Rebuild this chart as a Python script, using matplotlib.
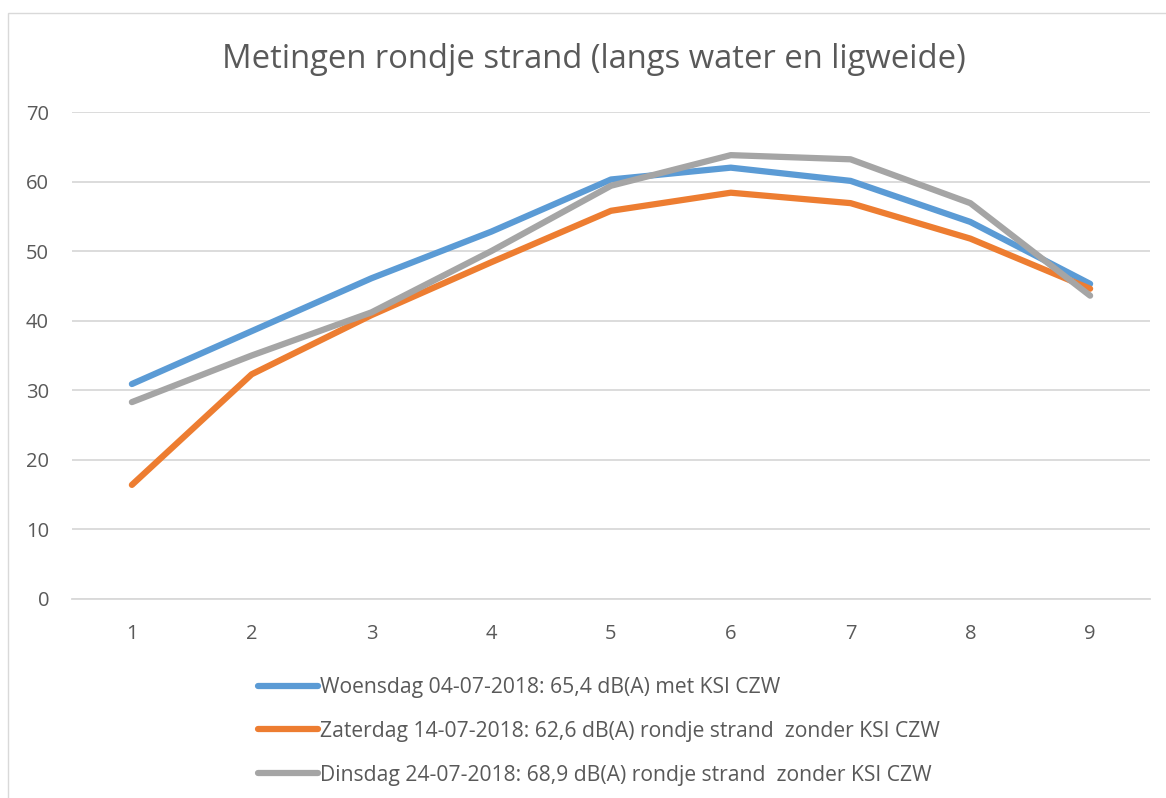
import matplotlib.pyplot as plt
from matplotlib.patches import Rectangle

plt.rcParams['font.family'] = ['Open Sans', 'DejaVu Sans']

points = [1, 2, 3, 4, 5, 6, 7, 8, 9]
woensdag = [30.9, 38.5, 46.1, 52.8, 60.3, 62.0, 60.1, 54.2, 45.3]
zaterdag = [16.4, 32.3, 40.8, 48.4, 55.8, 58.4, 56.9, 51.8, 44.6]
dinsdag = [28.3, 35.0, 41.2, 50.0, 59.4, 63.8, 63.2, 56.9, 43.6]

labels = [
    "Woensdag 04-07-2018: 65,4 dB(A) met KSI CZW",
    "Zaterdag 14-07-2018: 62,6 dB(A) rondje strand  zonder KSI CZW",
    "Dinsdag 24-07-2018: 68,9 dB(A) rondje strand  zonder KSI CZW",
]
colors = ["#5B9BD5", "#ED7D31", "#A5A5A5"]
txt = "#595959"

fig = plt.figure(figsize=(11.66, 7.98), dpi=100)
fig.patches.append(Rectangle((8 / 1166, -0.01), 1.0, 1 - 13 / 798 + 0.01,
                             transform=fig.transFigure, fill=False,
                             edgecolor="#d9d9d9", linewidth=1))

ax = fig.add_axes([72 / 1166, 1 - 599 / 798, (1150 - 72) / 1166, (599 - 112) / 798])

for series, c, lab in zip([woensdag, zaterdag, dinsdag], colors, labels):
    ax.plot(points, series, color=c, linewidth=4.5, solid_capstyle="round",
            solid_joinstyle="round", label=lab)

ax.set_xlim(0.5, 9.5)
ax.set_ylim(0, 70)
ax.set_xticks(points)
ax.set_yticks(range(0, 71, 10))
ax.grid(axis="y", color="#d9d9d9", linewidth=1.3)
ax.set_axisbelow(True)
for s in ["top", "right", "left"]:
    ax.spines[s].set_visible(False)
ax.spines["bottom"].set_color("#d9d9d9")
ax.spines["bottom"].set_linewidth(1.3)
ax.tick_params(length=0, labelsize=14.5, colors=txt)
ax.tick_params(axis="x", pad=18)
ax.tick_params(axis="y", pad=16.5)

fig.text(594 / 1166, 1 - 60 / 798, "Metingen rondje strand (langs water en ligweide)",
         ha="center", va="center", fontsize=23.6, color=txt)

leg = fig.legend(loc="upper left", bbox_to_anchor=(239 / 1166, 1 - 658 / 798),
                 frameon=False, fontsize=15.2, handlelength=2.85, handletextpad=0.1,
                 labelspacing=1.08, labelcolor=txt)

fig.savefig("out.png", dpi=100)
